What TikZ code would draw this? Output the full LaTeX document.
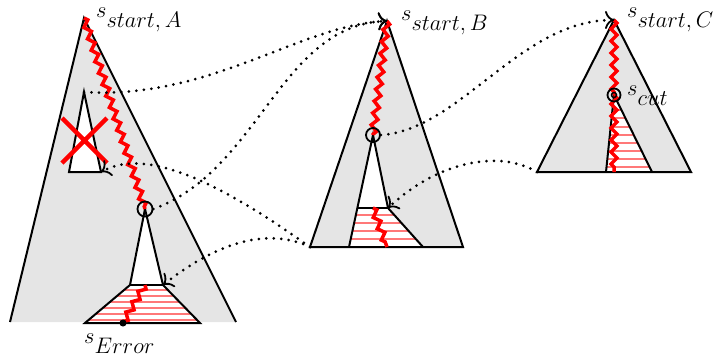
\RequirePackage{fix-cm}
\documentclass[tikz,border=0pt]{standalone}
\usetikzlibrary{arrows.meta,decorations.pathmorphing}
\newcommand\slab[1]{$s$\raisebox{-10pt}{$#1$}}
\definecolor{hatchred}{RGB}{255,120,120}
\tikzset{
  treefill/.style={fill=black!10},
  edge/.style={draw=black, line width=2pt, line join=miter},
  wavy/.style={draw=red, line width=3.5pt, decorate,
    decoration={zigzag, segment length=12pt, amplitude=3pt}},
  hatchline/.style={draw=hatchred, line width=1.1pt},
  conn/.style={line width=3pt, dash pattern=on 0pt off 7.5pt, line cap=round},
  tip/.style={-{Computer Modern Rightarrow[length=9pt,width=18pt,line width=1.8pt]}},
  lab/.style={inner sep=0pt, anchor=base west, font=\fontsize{22.5}{27}\selectfont},
  ring/.style={circle, draw=black, line width=1.8pt, inner sep=0pt, minimum size=15pt},
}
\begin{document}
\begin{tikzpicture}[x=1pt,y=-1pt]
\useasboundingbox (0,0) rectangle (717,356);
% ---------- coordinates ----------
% tree A
\coordinate (aT) at (84,18);
\coordinate (aL) at (10,322);
\coordinate (aR) at (236,322);
\coordinate (sT) at (84,92);
\coordinate (sL) at (69,172);
\coordinate (sR) at (101,172);
\coordinate (aC) at (145,209);
\coordinate (aTL) at (130,285);
\coordinate (aTR) at (163,285);
\coordinate (aBL) at (85,323);
\coordinate (aBR) at (200,323);
\coordinate (aW) at (145,285);
\coordinate (aErr) at (123,323);
% tree B
\coordinate (bT) at (387,21);
\coordinate (bL) at (310,247);
\coordinate (bR) at (463,247);
\coordinate (bC) at (373,135);
\coordinate (bIL) at (349,247);
\coordinate (bTL) at (357,208);
\coordinate (bTR) at (388,208);
\coordinate (bBR) at (423,247);
\coordinate (bW) at (373,208);
\coordinate (bWe) at (387,247);
% tree C
\coordinate (cT) at (614,20);
\coordinate (cL) at (537,172);
\coordinate (cR) at (691,172);
\coordinate (cC) at (614,95);
\coordinate (cIL) at (606,172);
\coordinate (cIR) at (652,172);
\coordinate (cB) at (614,172);

% ---------- tree A ----------
\fill[treefill] (aT) -- (aL) -- (aR) -- cycle;
\draw[edge] (aL) -- (aT) -- (aR);
\filldraw[fill=white, edge] (sT) -- (sL) -- (sR) -- cycle;
\fill[white] (aC) -- (aTL) -- (aBL) -- (aBR) -- (aTR) -- cycle;
\begin{scope}
  \clip (aTL) -- (aBL) -- (aBR) -- (aTR) -- cycle;
  \foreach \y in {290,296,302,308,314,320}
    \draw[hatchline] (80,\y) -- (205,\y);
\end{scope}
\draw[edge] (aC) -- (aTL) -- (aBL) -- (aBR) -- (aTR) -- cycle;
\draw[edge] (aTL) -- (aTR);
\draw[red, line width=4.5pt] (62,118) -- (107,163) (107,118) -- (62,163);
\draw[wavy] (aT) -- (aC);
\draw[wavy] (aW) -- (aErr);
\node[ring] (circA) at (aC) {};
\node[circle, draw=black, fill=black, line width=1pt, inner sep=0pt, minimum size=6pt] (errdot) at (aErr) {};

% ---------- tree B ----------
\fill[treefill] (bT) -- (bL) -- (bR) -- cycle;
\draw[edge] (bT) -- (bL) -- (bR) -- cycle;
\fill[white] (bC) -- (bIL) -- (bBR) -- (bTR) -- cycle;
\begin{scope}
  \clip (bTL) -- (bIL) -- (bBR) -- (bTR) -- cycle;
  \foreach \y in {215,223,231,239}
    \draw[hatchline] (345,\y) -- (430,\y);
\end{scope}
\draw[edge] (bIL) -- (bC) -- (bTR) -- (bBR);
\draw[edge] (bTL) -- (bTR);
\draw[edge] (bL) -- (bR);
\draw[wavy] (bT) -- (bC);
\draw[wavy] (bW) -- (bWe);
\node[ring, minimum size=14pt] (circB) at (bC) {};

% ---------- tree C ----------
\fill[treefill] (cT) -- (cL) -- (cR) -- cycle;
\draw[edge] (cT) -- (cL) -- (cR) -- cycle;
\fill[white] (cC) -- (cIL) -- (cIR) -- cycle;
\begin{scope}
  \clip (cC) -- (cIL) -- (cIR) -- cycle;
  \foreach \y in {110,118,127,135,143,151,159,167}
    \draw[hatchline] (600,\y) -- (660,\y);
\end{scope}
\draw[edge] (cIL) -- (cC) -- (cIR);
\draw[edge] (cL) -- (cR);
\draw[wavy] (cT) -- (cC);
\draw[wavy] (cC) -- (cB);
\node[ring, minimum size=13pt] (circC) at (cC) {};
\node[circle, draw=black, line width=1.5pt, inner sep=0pt, minimum size=5pt] (dotC) at (cC) {};

% ---------- connectors ----------
\draw[conn, tip] (sT) .. controls (210,100) and (300,25) .. (bT);
\draw[conn, tip] (circA.east) .. controls (260,170) and (280,25) .. (bT);
\draw[conn, tip] (bL) .. controls (230,190) and (150,145) .. (sR);
\draw[conn, tip] (bL) .. controls (270,228) and (220,240) .. (aTR);
\draw[conn, tip] (circB.east) .. controls (460,130) and (520,20) .. (cT);
\draw[conn, tip] (cL) .. controls (500,150) and (440,160) .. (bTR);

% ---------- labels ----------
\node[lab] (labA) at (96,17) {\slab{start,A}};
\node[lab] (labB) at (401,20) {\slab{start,B}};
\node[lab] (labC) at (627,17) {\slab{start,C}};
\node[lab] (labE) at (84,343) {\slab{Error}};
\node[lab] (labCut) at (627,95) {\slab{cut}};
\end{tikzpicture}
\end{document}
